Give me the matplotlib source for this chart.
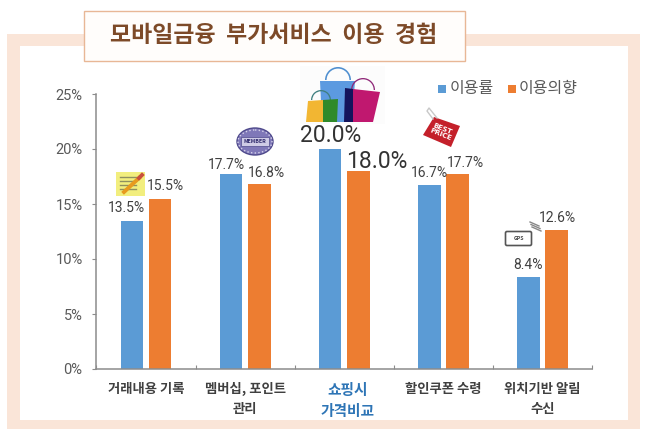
import matplotlib
import matplotlib.pyplot as plt
from matplotlib.patches import Ellipse, FancyBboxPatch, Polygon, Rectangle, Wedge

matplotlib.use('Agg')
plt.rcParams['font.family'] = ['Noto Sans CJK KR', 'DejaVu Sans']

categories = ['거래내용 기록', '멤버십, 포인트\n관리', '쇼핑시\n가격비교', '할인쿠폰 수령', '위치기반 알림\n수신']
usage = [13.5, 17.7, 20.0, 16.7, 8.4]
intent = [15.5, 16.8, 18.0, 17.7, 12.6]
y_ticks = [0, 5, 10, 15, 20, 25]

# label nudges from the bar top, in pixels
usage_nudge = [(-6, 12), (-5, 9.5), (0, 13), (0, 12.5), (0, 12)]
intent_nudge = [(5, 13), (7, 11.5), (18, 10), (8, 11.5), (1, 12.5)]

BLUE = '#5b9bd5'
ORANGE = '#ed7d31'
PEACH = '#fae5d8'
TEXT = '#404040'

W, H = 650, 433


def px_box(x0, y0, x1, y1):
    # pixel box, y from the top, to figure fractions
    return [x0 / W, 1 - y1 / H, (x1 - x0) / W, (y1 - y0) / H]


def draw_frame(bg):
    bg.add_patch(Rectangle((7, 34), 633, 395, fc=PEACH, ec='none'))
    bg.add_patch(Rectangle((20, 46), 608, 374, fc='white', ec='none'))
    bg.add_patch(Rectangle((84, 11), 381, 50, fc='#fffdfb', ec='#e8b796', lw=1))
    bg.text(274, 36, '모바일금융  부가서비스  이용  경험', color='#7d4a28', fontsize=16.5,
            fontweight='bold', ha='center', va='center')


def draw_icons(bg):
    # note and pencil
    bg.add_patch(Rectangle((116, 172), 29, 24, fc='#f2ee7e', ec='none'))
    for y in (177, 181, 185, 189):
        bg.plot([120, 136], [y, y], color='#8f8f60', lw=1)
    bg.plot([124, 139], [192, 178], color='#e79a1e', lw=2.8)
    bg.plot([139, 142], [178, 175], color='#c9503c', lw=2.8)

    # member stamp
    bg.add_patch(Ellipse((255, 141.5), 36, 27, fc='#7f78b8', ec='#4f4a8c', lw=1))
    bg.add_patch(Ellipse((255, 141.5), 34, 23, fc='none', ec='#d6d3ea', lw=1, ls=':'))
    bg.add_patch(Rectangle((241, 137), 28, 9, fc='#cfcce6', ec='#4f4a8c', lw=0.5))
    bg.text(255, 141.5, 'MEMBER', fontsize=3.8, color='#2f2a6c', ha='center', va='center', fontweight='bold')

    # shopping bags
    bg.add_patch(Rectangle((300, 66), 85, 58, fc='#fcfcfc', ec='none'))
    bg.add_patch(Wedge((338, 80), 13, 180, 360, width=1.6, fc='#4f8fd0', ec='none'))
    bg.add_patch(Polygon([[320, 81], [355, 81], [352, 122], [322, 122]], fc='#5c9ae0', ec='none'))
    bg.add_patch(Wedge((321, 100), 10, 180, 360, width=1.3, fc='#3f7f80', ec='none'))
    bg.add_patch(Polygon([[308, 101], [323, 100], [323, 122], [306, 122]], fc='#f2b632', ec='none'))
    bg.add_patch(Polygon([[323, 100], [338, 99], [337, 122], [323, 122]], fc='#2f8a2a', ec='none'))
    bg.add_patch(Wedge((363, 90), 12, 180, 360, width=1.3, fc='#8f2878', ec='none'))
    bg.add_patch(Polygon([[345, 88], [353, 89], [353, 122], [344, 122]], fc='#14145c', ec='none'))
    bg.add_patch(Polygon([[353, 89], [380, 92], [373, 122], [353, 122]], fc='#c0186f', ec='none'))

    # best price tag
    bg.plot([433, 427, 429, 437], [119, 111, 108, 118], color='#c8c8c8', lw=1)
    bg.add_patch(Polygon([[434, 117], [460, 126], [451, 147], [423, 135]], fc='#c4202a', ec='none'))
    bg.text(441.5, 131.5, 'BEST\nPRICE', fontsize=5, color='white', rotation=-22, ha='center', va='center',
            fontweight='bold', linespacing=1.0, family='DejaVu Sans')

    # gps
    bg.add_patch(FancyBboxPatch((507, 233), 23, 11, boxstyle='round,pad=1.5', fc='white', ec='#555555', lw=1.2))
    bg.text(518.5, 238.5, 'GPS', fontsize=3.8, color='#444444', ha='center', va='center', fontweight='bold')
    for k in range(3):
        bg.plot([530 + k, 539 + k], [222 + 2.5 * k, 226 + 2.5 * k], color='#888888', lw=1)


def draw_chart(ax):
    x = range(len(categories))
    width = 0.228
    offset = 0.142
    ax.bar([i - offset for i in x], usage, width, color=BLUE)
    ax.bar([i + offset for i in x], intent, width, color=ORANGE)

    for i in x:
        big = i == 2
        size = 16.5 if big else 10
        color = '#333333' if big else TEXT
        for val, nudge, pos in ((usage[i], usage_nudge[i], i - offset), (intent[i], intent_nudge[i], i + offset)):
            ax.annotate(f'{val:.1f}%', xy=(pos, val), xytext=(nudge[0] * 0.72, nudge[1] * 0.72),
                        textcoords='offset points', ha='center', va='center', fontsize=size, color=color,
                        family='Roboto')

    ax.set_xlim(-0.5, 4.5)
    ax.set_ylim(0, 25)
    ax.set_yticks(y_ticks)
    ax.set_yticklabels([f'{t}%' for t in y_ticks], fontsize=10.5, color='#595959', family='Roboto')
    ax.set_xticks([i - 0.5 for i in range(6)])
    ax.set_xticklabels([])
    ax.tick_params(axis='x', direction='in', length=3, color='#8c8c8c')
    ax.tick_params(axis='y', direction='out', length=3, color='#8c8c8c', pad=7)
    for side in ('top', 'right'):
        ax.spines[side].set_visible(False)
    for side in ('left', 'bottom'):
        ax.spines[side].set_color('#8c8c8c')
        ax.spines[side].set_linewidth(1.1)

    for i, label in enumerate(categories):
        big = i == 2
        ax.text(i + (0.03 if big else 0), -1.2, label, ha='center', va='top', fontsize=10.6 if big else 9.6,
                color='#2e75b6' if big else '#404040', fontweight='bold', linespacing=1.4 if big else 1.5)


def draw_legend(bg):
    bg.add_patch(Rectangle((438, 85), 8, 8, fc=BLUE, ec='none'))
    bg.text(450, 88.5, '이용률', fontsize=11.5, color='#595959', va='center', fontweight='medium')
    bg.add_patch(Rectangle((508, 85), 8, 8, fc=ORANGE, ec='none'))
    bg.text(519, 88.5, '이용의향', fontsize=11.5, color='#595959', va='center', fontweight='medium')


if __name__ == '__main__':
    fig = plt.figure(figsize=(6.5, 4.33), dpi=100, facecolor='white')

    bg = fig.add_axes([0, 0, 1, 1])
    bg.set_xlim(0, W)
    bg.set_ylim(H, 0)
    bg.axis('off')
    draw_frame(bg)

    ax = fig.add_axes(px_box(96.5, 94, 592, 369))
    ax.patch.set_alpha(0)
    draw_chart(ax)

    fg = fig.add_axes([0, 0, 1, 1])
    fg.set_xlim(0, W)
    fg.set_ylim(H, 0)
    fg.axis('off')
    draw_icons(fg)
    draw_legend(fg)

    fig.savefig('out.png', dpi=100)
